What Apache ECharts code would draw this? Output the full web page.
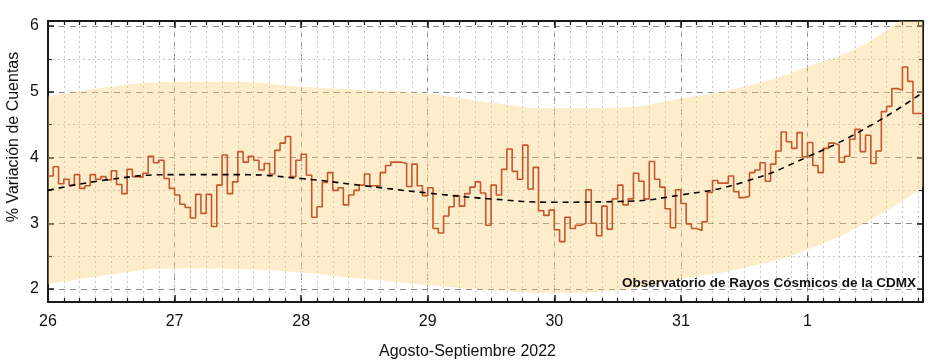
<!DOCTYPE html>
<html>
<head>
<meta charset="utf-8">
<script src="https://cdn.jsdelivr.net/npm/echarts@6/dist/echarts.min.js"></script>
<style>html,body{margin:0;padding:0;background:#fff}#c{width:935px;height:363px}</style>
</head>
<body>
<div id="c"></div>
<script>
// ---- data ----
const dayLabels = ['26', '27', '28', '29', '30', '31', '1'];
const yTickValues = [2, 3, 4, 5, 6];
// hourly values (% variation), starting 26 Aug 00:00
const day26 = [3.72, 3.86, 3.60, 3.67, 3.58, 3.74, 3.53, 3.57, 3.74, 3.67, 3.71, 3.66, 3.80, 3.59, 3.45, 3.82, 3.71, 3.70, 3.76, 4.02, 3.92, 3.96, 3.68, 3.53];
const day27 = [3.43, 3.29, 3.24, 3.08, 3.44, 3.15, 3.44, 2.95, 3.58, 4.04, 3.45, 3.63, 4.09, 3.93, 4.02, 3.96, 3.81, 3.91, 3.75, 4.11, 4.22, 4.32, 3.71, 3.96];
const day28 = [4.05, 3.73, 3.09, 3.25, 3.62, 3.77, 3.50, 3.54, 3.28, 3.43, 3.50, 3.58, 3.75, 3.57, 3.57, 3.77, 3.88, 3.93, 3.93, 3.91, 3.56, 3.90, 3.57, 3.42];
const day29 = [3.54, 2.92, 2.85, 3.11, 3.25, 3.42, 3.26, 3.45, 3.55, 3.63, 3.46, 2.97, 3.58, 3.43, 3.82, 4.13, 3.79, 3.67, 4.19, 3.52, 3.85, 3.19, 3.12, 3.20];
const day30 = [2.90, 2.72, 3.09, 2.92, 2.97, 3.00, 3.51, 3.00, 2.81, 3.26, 2.91, 3.37, 3.58, 3.28, 3.37, 3.76, 3.64, 3.37, 3.94, 3.67, 3.55, 3.22, 2.93, 3.51];
const day31 = [3.30, 2.99, 2.92, 2.89, 3.02, 3.47, 3.65, 3.61, 3.61, 3.72, 3.48, 3.39, 3.41, 3.77, 3.81, 3.92, 3.64, 3.90, 4.10, 4.39, 4.24, 4.14, 4.38, 4.01];
const day01 = [4.23, 3.88, 3.77, 4.14, 4.22, 4.19, 3.93, 4.02, 4.28, 4.43, 4.09, 4.34, 3.91, 4.10, 4.70, 4.78, 5.05, 5.03, 5.38, 5.16, 4.67, 4.67];
// fitted trend and band (hours since 26 Aug 00:00)
const fitHours  = [0, 12, 24, 36, 48, 60, 72, 84, 96, 108, 120, 132, 144, 156, 166];
const fitValues = [3.50, 3.67, 3.74, 3.74, 3.68, 3.57, 3.46, 3.37, 3.32, 3.33, 3.43, 3.63, 4.01, 4.49, 5.00];
const bandUpper = [4.93, 5.08, 5.15, 5.15, 5.08, 5.03, 4.97, 4.84, 4.75, 4.76, 4.90, 5.08, 5.38, 5.78, 6.40];
const bandLower = [2.07, 2.22, 2.31, 2.30, 2.25, 2.15, 2.06, 1.98, 1.94, 1.98, 2.15, 2.32, 2.60, 3.05, 3.56];

// ---- build ----
const values = [].concat(day26, day27, day28, day29, day30, day31, day01);
const stepData = values.map((v, i) => [i, v]);
stepData.push([values.length, values[values.length - 1]]);
const XMAX = 165.9;
// value first, hour second -> stacking acts on the value (y) dimension
const lowerData = fitHours.map((h, i) => [bandLower[i], h]);
const widthData = fitHours.map((h, i) => [+(bandUpper[i] - bandLower[i]).toFixed(3), h]);
const fitData = fitHours.map((h, i) => [h, fitValues[i]]);

const FONT = 'Liberation Sans, Arial, sans-serif';
const rect = {left: 48, right: 12, top: 21, bottom: 61};
const rect2 = {left: 48, right: 12, top: 26, bottom: 74};
const black = '#1a1a1a';

const chart = echarts.init(document.getElementById('c'), null, {renderer: 'canvas'});
chart.setOption({
  animation: false,
  backgroundColor: '#fff',
  grid: [
    Object.assign({}, rect),
    Object.assign({}, rect),
    Object.assign({}, rect2)
  ],
  xAxis: [
    { gridIndex: 0, type: 'value', position: 'bottom', min: 0, max: XMAX, interval: 24,
      axisLine: {show: true, onZero: false, lineStyle: {color: black, width: 2}},
      axisTick: {show: true, inside: true, length: 7, lineStyle: {color: black, width: 1.5}},
      axisLabel: {show: true, margin: 12, fontSize: 16, color: '#111', fontFamily: FONT,
        formatter: v => (Math.abs(v / 24 - Math.round(v / 24)) < 1e-6 ? (dayLabels[Math.round(v / 24)] || '') : '')},
      splitLine: {show: true, lineStyle: {color: '#8c8c8c', type: [6, 5], width: 1}} },
    { gridIndex: 0, type: 'value', position: 'top', min: 0, max: XMAX, interval: 24,
      axisLine: {show: true, onZero: false, lineStyle: {color: black, width: 2}},
      axisTick: {show: true, inside: true, length: 7, lineStyle: {color: black, width: 1.5}},
      axisLabel: {show: false}, splitLine: {show: false} },
    { gridIndex: 1, type: 'value', position: 'bottom', min: 0, max: XMAX, interval: 3,
      axisLine: {show: false, onZero: false},
      axisTick: {show: true, inside: true, length: 4, lineStyle: {color: black, width: 1.2}},
      axisLabel: {show: false},
      splitLine: {show: true, lineStyle: {color: '#c8c8c8', type: [2, 3], width: 1}} },
    { gridIndex: 1, type: 'value', position: 'top', min: 0, max: XMAX, interval: 3,
      axisLine: {show: false, onZero: false},
      axisTick: {show: true, inside: true, length: 4, lineStyle: {color: black, width: 1.2}},
      axisLabel: {show: false}, splitLine: {show: false} },
    { gridIndex: 2, type: 'value', min: 0, max: XMAX, show: false }
  ],
  yAxis: [
    { gridIndex: 0, type: 'value', position: 'left', min: 1.8, max: 6.08,
      axisLine: {show: true, onZero: false, lineStyle: {color: black, width: 2}},
      axisTick: {show: false}, axisLabel: {show: false}, splitLine: {show: false} },
    { gridIndex: 0, type: 'value', position: 'right', min: 1.8, max: 6.08,
      axisLine: {show: true, onZero: false, lineStyle: {color: black, width: 2}},
      axisTick: {show: false}, axisLabel: {show: false}, splitLine: {show: false} },
    { gridIndex: 1, type: 'value', min: 1.8, max: 6.08, show: false },
    { gridIndex: 2, type: 'value', position: 'left', min: yTickValues[0], max: yTickValues[yTickValues.length - 1], interval: 1,
      axisLine: {show: false, onZero: false},
      axisTick: {show: true, inside: true, length: 6, lineStyle: {color: black, width: 1.5}},
      minorTick: {show: true, splitNumber: 2, length: 4, lineStyle: {color: black, width: 1.2}},
      axisLabel: {show: true, margin: 9, fontSize: 16, color: '#111', fontFamily: FONT},
      splitLine: {show: true, lineStyle: {color: '#8c8c8c', type: [6, 5], width: 1}},
      minorSplitLine: {show: true, lineStyle: {color: '#c8c8c8', type: [2, 3], width: 1}} },
    { gridIndex: 2, type: 'value', position: 'right', min: yTickValues[0], max: yTickValues[yTickValues.length - 1], interval: 1,
      axisLine: {show: false, onZero: false},
      axisTick: {show: true, inside: true, length: 6, lineStyle: {color: black, width: 1.5}},
      minorTick: {show: true, splitNumber: 2, length: 4, lineStyle: {color: black, width: 1.2}},
      axisLabel: {show: false}, splitLine: {show: false}, minorSplitLine: {show: false} }
  ],
  series: [
    { type: 'line', xAxisIndex: 0, yAxisIndex: 0, data: lowerData, dimensions: ['val', 'hour'],
      encode: {x: 1, y: 0}, smooth: true, stack: 'band',
      symbol: 'none', lineStyle: {width: 0, opacity: 0}, silent: true, z: 1 },
    { type: 'line', xAxisIndex: 0, yAxisIndex: 0, data: widthData, dimensions: ['val', 'hour'],
      encode: {x: 1, y: 0}, smooth: true, stack: 'band',
      symbol: 'none', lineStyle: {width: 0, opacity: 0},
      areaStyle: {color: 'rgba(250,205,112,0.36)', opacity: 1}, silent: true, z: 1 },
    { type: 'line', xAxisIndex: 0, yAxisIndex: 0, data: stepData, step: 'end',
      symbol: 'none', lineStyle: {color: '#c9552c', width: 1.6}, z: 3 },
    { type: 'line', xAxisIndex: 0, yAxisIndex: 0, data: fitData, smooth: true,
      symbol: 'none', lineStyle: {color: '#000', width: 1.6, type: [6, 5]}, z: 4 }
  ],
  graphic: [
    { type: 'text', left: 'center', top: 344,
      style: {text: 'Agosto-Septiembre 2022', font: '16px ' + FONT, fill: '#111'} },
    { type: 'text', x: 14, y: 137, rotation: Math.PI / 2,
      style: {text: '% Variación de Cuentas', font: '16px ' + FONT, fill: '#111', textAlign: 'center', textVerticalAlign: 'middle'} },
    { type: 'text', right: 19, top: 276, z: 10,
      style: {text: 'Observatorio de Rayos Cósmicos de la CDMX', font: 'bold 13.5px ' + FONT, fill: '#111'} }
  ]
});
</script>
</body>
</html>
